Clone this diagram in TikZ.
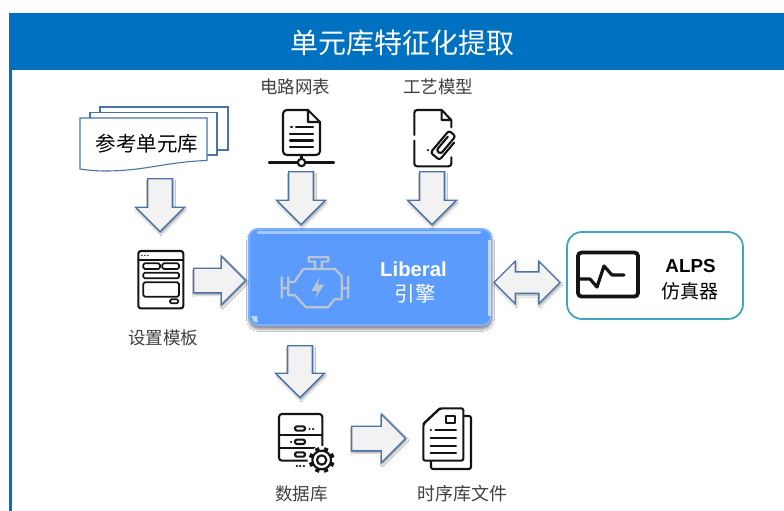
\documentclass[tikz,border=0pt]{standalone}
\usepackage{fontspec}
\setmainfont{Liberation Sans}
\newfontfamily\cjk{Noto Sans CJK SC}
\usetikzlibrary{shapes.arrows,shadows.blur}
\definecolor{frameblue}{HTML}{0070C0}
\definecolor{arrowedge}{HTML}{4A74A8}
\definecolor{arrowfill}{HTML}{F2F2F2}
\definecolor{engineblue}{HTML}{5B9BFB}
\definecolor{teal}{HTML}{3FA5C2}
\definecolor{labelgray}{HTML}{404040}
\definecolor{iconink}{HTML}{141414}
\definecolor{enginegray}{HTML}{BCC6D2}
\tikzset{
  softshadow/.style={blur shadow={shadow xshift=1pt,shadow yshift=-2pt,shadow blur steps=5,shadow opacity=40,shadow blur radius=2pt}},
  arrowbase/.style={draw=arrowedge,fill=arrowfill,line width=1.3pt,inner sep=0pt,softshadow},
  blockarrow/.style={arrowbase,single arrow,anchor=tail,inner ysep=11.7pt,single arrow head extend=12pt,single arrow tip angle=90},
  label/.style={font=\cjk\fontsize{17.5}{20}\selectfont,text=labelgray,inner sep=0pt},
  icon/.style={draw=iconink,line width=2.1pt,line cap=round,line join=round},
  sheet/.style={draw=arrowedge,fill=white,line width=1.1pt},
}
\begin{document}
\begin{tikzpicture}[x=1pt,y=-1pt]
\useasboundingbox (0,0) rectangle (784,511);
\fill[white] (0,0) rectangle (784,511);
% frame
\fill[frameblue] (9,13) rectangle (12,511);
\node[fill=frameblue,minimum width=775pt,minimum height=57pt,inner sep=0pt,anchor=north west] (band) at (9,13) {};
\node[text=white,font=\cjk\fontsize{28}{30}\selectfont,inner sep=0pt] (title) at (402.5,43) {单元库特征化提取};

% stacked reference library
\draw[sheet] (100,107) rectangle (228,150);
\draw[sheet] (90,112.5) rectangle (217,155);
\draw[sheet] (80,118) -- (207,118) -- (207,160.5) .. controls (165,162) and (145,171) .. (105,171) .. controls (95,171) and (87,170) .. (80,169) -- cycle;
\node[font=\cjk\fontsize{20.5}{22}\selectfont,text=black,inner sep=0pt] (reflib) at (147,144) {参考单元库};

% labels
\node[label] (netlabel) at (295,87) {电路网表};
\node[label] (proclabel) at (438,87) {工艺模型};
\node[label] (tmpllabel) at (163,338) {设置模板};
\node[label] (dblabel) at (301.5,493.5) {数据库};
\node[label,font=\cjk\fontsize{18}{20}\selectfont] (timinglabel) at (462,493.5) {时序库文件};

% netlist icon
\draw[icon] (308,110) -- (287,110) .. controls (284.5,110) and (283,111.5) .. (283,114) -- (283,151) .. controls (283,153.5) and (284.5,155) .. (287,155) -- (316,155) .. controls (318.5,155) and (320,153.5) .. (320,151) -- (320,122) -- (308,110) -- (308,122) -- (320,122);
\draw[icon] (291,127) -- (292,127) (296,127) -- (313,127) (290,134) -- (313,134) (290,140.5) -- (313,140.5) (290,147) -- (313,147);
\draw[icon] (269,162.5) -- (334,162.5) (301.5,155) -- (301.5,159);
\draw[icon,fill=white] (301.5,162.5) circle (3.7);

% process model icon
\begin{scope}[shift={(240,70)},x=0.3333pt,y=-0.3333pt]
\draw[icon] (605,120) -- (532,120) .. controls (526,120) and (523,123) .. (523,129) -- (523,195) (523,212) -- (523,280) .. controls (523,286) and (526,289) .. (532,289) -- (625,289) .. controls (631,289) and (634,286) .. (634,280) -- (634,262);
\draw[icon] (605,120) -- (634,150) -- (605,150) -- (605,120) (634,150) -- (634,172);
\draw[icon] (563,240) -- (563,241);
\begin{scope}[shift={(613,225)},rotate=50]
\draw[icon,rounded corners=2.6pt] (26,-8) -- (-28,-8) -- (-28,9) -- (42,9) -- (42,-17) -- (-44,-17) -- (-44,18) -- (24,18);
\end{scope}
\end{scope}

% template icon
\begin{scope}[shift={(110,240)},x=0.3333pt,y=-0.3333pt]
\draw[icon,rounded corners=2.5pt] (85,33) rectangle (220,205);
\draw[icon] (85,60) -- (220,60);
\draw[icon,line width=1.3pt] (95,47) -- (96,47) (104,47) -- (105,47) (113,47) -- (114,47);
\draw[icon,line width=1.7pt,rounded corners=1.5pt] (100,70) rectangle (150,87) (157,70) rectangle (207,87) (100,98) rectangle (207,115) (100,127) rectangle (207,170) (180,178) rectangle (205,190);
\end{scope}

% database icon
\begin{scope}[shift={(260,340)},x=0.3333pt,y=-0.3333pt]
\draw[icon,rounded corners=3pt] (57,243) -- (57,222) -- (187,222) -- (187,320);
\draw[icon,rounded corners=3pt] (57,243) -- (57,362) -- (145,362);
\draw[icon] (57,285) -- (187,285) (57,325) -- (187,325);
\draw[icon,rounded corners=2pt] (105,259) rectangle (135,272) (105,299) rectangle (135,312) (105,337) rectangle (135,350);
\draw[icon] (148,266) -- (149,266) (159,266) -- (160,266) (93,305) -- (94,305) (110,378) -- (111,378) (120,378) -- (121,378) (131,378) -- (132,378);
\fill[white] (185,360) circle (42);
\foreach \a in {22.5,67.5,...,337.5}{
  \draw[icon,line width=4.2pt,line cap=butt] (185,360) ++(\a:24) -- ++(\a:15);
}
\draw[icon,fill=white] (185,360) circle (28);
\draw[icon] (185,360) circle (14);
\end{scope}

% timing library icon
\begin{scope}[shift={(260,340)},x=0.3333pt,y=-0.3333pt]
\draw[icon,rounded corners=2pt] (610,228) -- (633,228) -- (633,387) -- (513,387) -- (513,362);
\draw[icon,fill=white,rounded corners=2pt] (540,205) -- (610,205) -- (610,362) -- (490,362) -- (490,252) -- cycle;
\draw[icon] (540,205) -- (490,252);
\draw[icon] (558,229) rectangle (586,250);
\draw[icon] (512,271) -- (513,271) (526,271) -- (588,271) (512,294) -- (588,294) (512,317) -- (588,317) (512,340) -- (588,340);
\end{scope}

% engine
\node[fill=engineblue,rounded corners=10pt,minimum width=244pt,minimum height=98pt,inner sep=0pt,blur shadow={shadow xshift=0.5pt,shadow yshift=-3.5pt,shadow blur steps=6,shadow opacity=40,shadow blur radius=2pt}] (engine) at (370,277) {};
\draw[white,opacity=.25,line width=1.5pt,rounded corners=9pt] (249,229) rectangle (491,325);
\draw[white,opacity=.45,line width=3pt,line cap=round] (258,232) -- (480,232);
\draw[white,opacity=.6,line width=2.5pt] (489.5,240) -- (489.5,316);
\fill[white,opacity=.6] (251,316) -- (257,316) -- (258,322) -- (254,322) -- cycle;
\begin{scope}[shift={(240,70)},x=0.3333pt,y=-0.3333pt]
\draw[draw=enginegray,line width=2.2pt,line join=round]
 (206,561) -- (265,561) -- (265,575) -- (245,575) -- (245,597) -- (225,597) -- (225,575) -- (206,575) -- cycle
 (190,597) -- (285,597) -- (305,618) -- (305,688) -- (283,688) -- (265,712) -- (198,712) -- (165,676) -- (145,676) -- (145,636) (145,636) -- (163,636) -- (190,597)
 (145,655) -- (125,655) (125,620) -- (125,686) (145,620) -- (145,636)
 (305,655) -- (325,655) (325,618) -- (325,686);
\fill[enginegray] (240,620) -- (214,663) -- (233,663) -- (224,686) -- (253,644) -- (233,644) -- cycle;
\end{scope}
\node[text=white,font=\bfseries\fontsize{20.3}{22}\selectfont,inner sep=0pt] (liberal) at (413.5,269.5) {Liberal};
\node[text=white,font=\cjk\fontsize{20.5}{22}\selectfont,inner sep=0pt] (yinqing) at (415,294) {引擎};

% ALPS
\node[draw=teal,line width=1.8pt,fill=white,rounded corners=15pt,minimum width=176pt,minimum height=87pt,inner sep=0pt] (alps) at (655,275.5) {};
\draw[iconink,line width=3.8pt,rounded corners=3.5pt] (578,252.5) rectangle (638,296.5);
\draw[iconink,line width=3.2pt,line join=round,line cap=round] (579,279) -- (590,279) -- (597,287) -- (604,266) -- (612,275) -- (624,275);
\node[text=black,font=\bfseries\fontsize{18.8}{20}\selectfont,inner sep=0pt] (alpsname) at (690.5,266) {ALPS};
\node[text=black,font=\cjk\fontsize{19}{21}\selectfont,inner sep=0pt] (simname) at (690,291) {仿真器};

% block arrows
\node[blockarrow,minimum height=53pt,rotate=-90] (a1) at (160,178) {};
\node[blockarrow,minimum height=53pt,rotate=-90] (a2) at (301,171) {};
\node[blockarrow,minimum height=53pt,rotate=-90] (a3) at (432,171) {};
\node[blockarrow,minimum height=52pt] (a4) at (193,280.5) {};
\node[blockarrow,minimum height=52pt,rotate=-90] (a6) at (300,345) {};
\node[blockarrow,minimum height=54pt] (a7) at (351,438.5) {};
\node[arrowbase,double arrow,inner ysep=10pt,minimum height=66pt,double arrow head extend=10.5pt,double arrow tip angle=90] (a5) at (527,282.5) {};
\end{tikzpicture}
\end{document}
